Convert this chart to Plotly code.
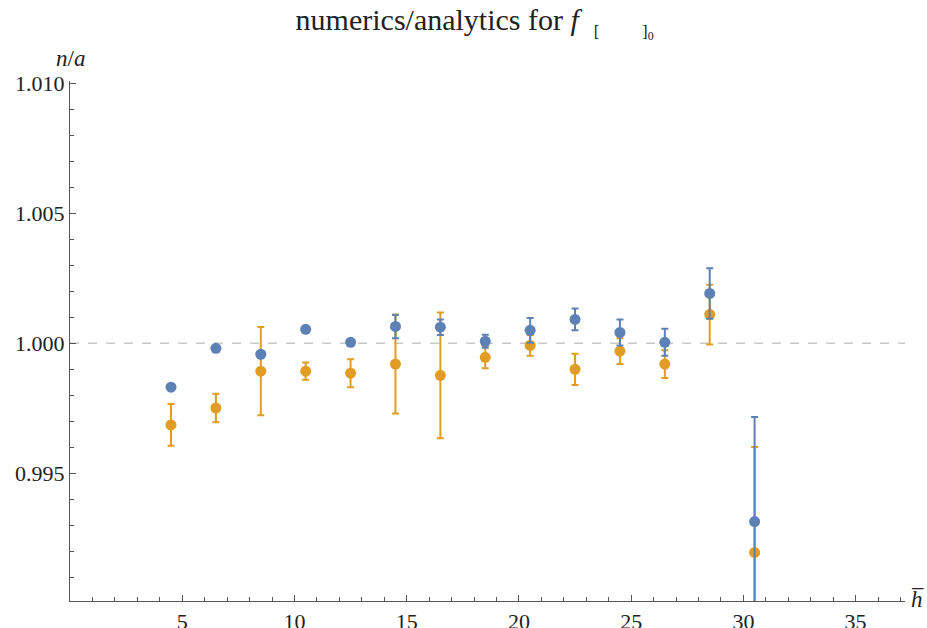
import plotly.graph_objects as go

h_values = [4.5, 6.5, 8.5, 10.5, 12.5, 14.5, 16.5, 18.5, 20.5, 22.5, 24.5, 26.5, 28.5, 30.5]

blue_ratio = [0.99831, 0.99981, 0.99958, 1.00054, 1.00004, 1.00065, 1.00062, 1.00008,
              1.00050, 1.00092, 1.00042, 1.00004, 1.00192, 0.99314]
blue_err = [0.00002, 0.00005, 0.00004, 0.00003, 0.00008, 0.00045, 0.00030, 0.00025,
            0.00048, 0.00042, 0.00050, 0.00052, 0.00097, 0.00402]

orange_ratio = [0.99686, 0.99751, 0.99893, 0.99893, 0.99885, 0.99920, 0.99877, 0.99946,
                0.99992, 0.99900, 0.99970, 0.99920, 1.00111, 0.99195]
orange_err = [0.00080, 0.00055, 0.00170, 0.00033, 0.00054, 0.00190, 0.00242, 0.00042,
              0.00040, 0.00060, 0.00050, 0.00053, 0.00115, 0.00406]

y_ticks = [0.995, 1.000, 1.005, 1.010]
y_ticklabels = ["0.995", "1.000", "1.005", "1.010"]
x_ticks = [5, 10, 15, 20, 25, 30, 35]

BLUE = "#5E81B5"
ORANGE = "#E19C24"
FONT = "Liberation Serif, Times New Roman, serif"

fig = go.Figure()
fig.add_trace(go.Scatter(
    x=h_values, y=orange_ratio, mode="markers",
    marker=dict(color=ORANGE, size=11),
    error_y=dict(type="data", array=orange_err, color=ORANGE, thickness=2, width=3.5),
    showlegend=False, cliponaxis=True))
fig.add_trace(go.Scatter(
    x=h_values, y=blue_ratio, mode="markers",
    marker=dict(color=BLUE, size=11),
    error_y=dict(type="data", array=blue_err, color=BLUE, thickness=2, width=3.5),
    showlegend=False, cliponaxis=True))

fig.add_shape(type="line", xref="paper", x0=0, x1=1, yref="y", y0=1.0, y1=1.0,
              line=dict(color="#c8c8c8", width=1.5, dash="dash"), layer="below")

axis_common = dict(showgrid=False, zeroline=False, showline=True, linecolor="#555555",
                   linewidth=1.2, ticks="inside", tickcolor="#555555", ticklen=6,
                   automargin=False,
                   tickfont=dict(family=FONT, size=22, color="#222222"))

fig.update_xaxes(range=[0, 37.2], tickvals=x_ticks,
                 minor=dict(ticks="inside", dtick=1, tick0=0, ticklen=3.5, tickcolor="#555555"),
                 **axis_common)
fig.update_yaxes(range=[0.99008, 1.0101], tickvals=y_ticks, ticktext=y_ticklabels,
                 minor=dict(ticks="inside", dtick=0.001, tick0=0.99, ticklen=3.5, tickcolor="#555555"),
                 **axis_common)

fig.add_annotation(text="<i>n</i>/<i>a</i>", xref="paper", yref="paper", x=0.0, y=1.0,
                   xanchor="center", yanchor="bottom", yshift=8, showarrow=False,
                   font=dict(family=FONT, size=23, color="#222222"))
fig.add_annotation(text="<i>h\u0305</i>", xref="paper", yref="paper", x=1.0, y=0.0,
                   xanchor="left", yanchor="middle", xshift=4, yshift=2, showarrow=False,
                   font=dict(family=FONT, size=23, color="#222222"))

title_text = ("numerics/analytics for <i>f</i>  "
              "<sub><span style='font-size:17px'>[          ]</span>"
              "<span style='font-size:17px'><sub>0</sub></span></sub>")

fig.update_layout(
    width=927, height=628,
    margin=dict(l=70, r=22, t=81, b=27, autoexpand=False),
    plot_bgcolor="white", paper_bgcolor="white",
    title=dict(text=title_text,
               x=0.512, xanchor="center", y=0.985, yanchor="top",
               font=dict(family=FONT, size=30, color="#222222")),
)

fig.write_html("out.html", config={"displayModeBar": False},
               post_script="document.body.style.margin='0px';document.body.style.overflow='hidden';")
